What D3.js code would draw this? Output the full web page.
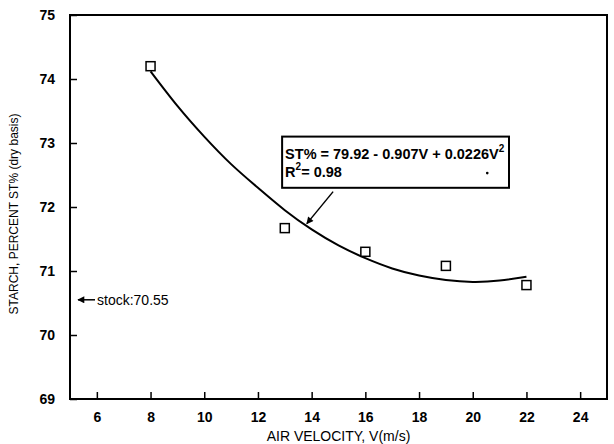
<!DOCTYPE html>
<html>
<head>
<meta charset="utf-8">
<script src="https://cdn.jsdelivr.net/npm/d3@7"></script>
<style>
    body { margin: 0; background: #fff; }
    svg { display: block; font-family: "Liberation Sans", Arial, sans-serif; }
    .axis path, .axis line { stroke: #000; }
</style>
</head>
<body>
<div id="chart"></div>
<script>
// measured points
var velocity = [8, 13, 16, 19, 22];
var starch = [74.2, 71.67, 71.3, 71.08, 70.78];

// fitted curve
var fitV = [8, 9, 10, 11, 12, 13, 14, 15, 16, 17, 18, 19, 20, 21, 22];
var fitST = [74.12, 73.58, 73.1, 72.67, 72.3, 71.95, 71.65, 71.4, 71.2, 71.04, 70.93, 70.86, 70.83, 70.85, 70.91];

var xTicks = [6, 8, 10, 12, 14, 16, 18, 20, 22, 24];
var yTicks = [69, 70, 71, 72, 73, 74, 75];
var stockValue = 70.55;

window.onload = function () {
    var margin = {top: 15, right: 7, bottom: 45, left: 70},
        width = 614 - margin.left - margin.right,
        height = 444 - margin.top - margin.bottom;

    var svg = d3.select("#chart")
        .append("svg")
        .attr("width", 614)
        .attr("height", 444)
        .append("g")
        .attr("transform", "translate(" + margin.left + "," + margin.top + ")");

    var x = d3.scaleLinear().domain([5, 25]).range([0, width]);
    var y = d3.scaleLinear().domain([69, 75]).range([height, 0]);

    // frame
    svg.append("rect")
        .attr("width", width)
        .attr("height", height)
        .style("fill", "none")
        .style("stroke", "#000")
        .style("stroke-width", 2);

    // x axis, ticks pointing inward
    var xAxis = svg.append("g")
        .attr("class", "axis")
        .attr("transform", "translate(0," + height + ")")
        .call(d3.axisBottom(x).tickValues(xTicks).tickSize(-7).tickPadding(13).tickFormat(d3.format("d")));
    xAxis.select(".domain").remove();
    xAxis.selectAll("line").style("stroke-width", 1.5);
    xAxis.selectAll("text")
        .style("font-size", "14px")
        .style("font-weight", "bold")
        .style("fill", "#000");

    // y axis
    var yAxis = svg.append("g")
        .attr("class", "axis")
        .call(d3.axisLeft(y).tickValues(yTicks).tickSize(-7).tickPadding(15).tickFormat(d3.format("d")));
    yAxis.select(".domain").remove();
    yAxis.selectAll("line").style("stroke-width", 1.5);
    yAxis.selectAll("text")
        .style("font-size", "14px")
        .style("font-weight", "bold")
        .style("fill", "#000");

    // axis titles
    svg.append("text")
        .attr("x", width / 2)
        .attr("y", height + 42)
        .style("text-anchor", "middle")
        .style("font-size", "14px")
        .text("AIR VELOCITY, V(m/s)");

    svg.append("text")
        .attr("transform", "rotate(-90)")
        .attr("x", -height / 2 - 7)
        .attr("y", -52)
        .style("text-anchor", "middle")
        .style("font-size", "12px")
        .text("STARCH, PERCENT ST% (dry basis)");

    // fitted curve
    var line = d3.line()
        .x(function (d, i) { return x(fitV[i]); })
        .y(function (d) { return y(d); })
        .curve(d3.curveNatural);
    svg.append("path")
        .datum(fitST)
        .attr("d", line)
        .style("fill", "none")
        .style("stroke", "#000")
        .style("stroke-width", 2);

    // open squares
    var s = 9;
    svg.append("g")
        .selectAll("rect")
        .data(starch)
        .enter()
        .append("rect")
        .attr("x", function (d, i) { return x(velocity[i]) - s / 2; })
        .attr("y", function (d) { return y(d) - s / 2; })
        .attr("width", s)
        .attr("height", s)
        .style("fill", "#fff")
        .style("stroke", "#000")
        .style("stroke-width", 1.5);

    // arrow marker
    var defs = svg.append("defs");
    defs.append("marker")
        .attr("id", "arrow")
        .attr("viewBox", "0 0 10 10")
        .attr("refX", 9)
        .attr("refY", 5)
        .attr("markerWidth", 10)
        .attr("markerHeight", 7)
        .attr("markerUnits", "userSpaceOnUse")
        .attr("orient", "auto")
        .append("path")
        .attr("d", "M0,0 L10,5 L0,10 Z")
        .style("fill", "#000");

    // equation box
    var bx = x(12.9), by = y(73.1);
    var bw = x(21.35) - bx, bh = y(72.3) - by;
    svg.append("rect")
        .attr("x", bx).attr("y", by)
        .attr("width", bw).attr("height", bh)
        .style("fill", "#fff")
        .style("stroke", "#000")
        .style("stroke-width", 2);

    var eq1 = svg.append("text")
        .attr("x", bx + 3)
        .attr("y", by + 22)
        .style("font-size", "14.5px")
        .style("font-weight", "bold");
    eq1.append("tspan").text("ST% = 79.92 - 0.907V + 0.0226V");
    eq1.append("tspan").attr("dy", -7).style("font-size", "10px").text("2");

    var eq2 = svg.append("text")
        .attr("x", bx + 3)
        .attr("y", by + 40)
        .style("font-size", "14.5px")
        .style("font-weight", "bold");
    eq2.append("tspan").text("R");
    eq2.append("tspan").attr("dy", -7).style("font-size", "10px").text("2");
    eq2.append("tspan").attr("dy", 7).text("= 0.98");

    svg.append("circle")
        .attr("cx", x(20.54))
        .attr("cy", y(72.53))
        .attr("r", 1.3)
        .style("fill", "#000");

    // pointer from box to curve
    svg.append("line")
        .attr("x1", x(14.8)).attr("y1", y(72.24))
        .attr("x2", x(13.82)).attr("y2", y(71.74))
        .style("stroke", "#000")
        .style("stroke-width", 1.5)
        .attr("marker-end", "url(#arrow)");

    // stock reference
    svg.append("line")
        .attr("x1", 25).attr("y1", y(stockValue))
        .attr("x2", 8).attr("y2", y(stockValue))
        .style("stroke", "#000")
        .style("stroke-width", 1.5)
        .attr("marker-end", "url(#arrow)");
    svg.append("text")
        .attr("x", 27)
        .attr("y", y(stockValue) + 5)
        .style("font-size", "14px")
        .text("stock:70.55");
};
</script>
</body>
</html>
